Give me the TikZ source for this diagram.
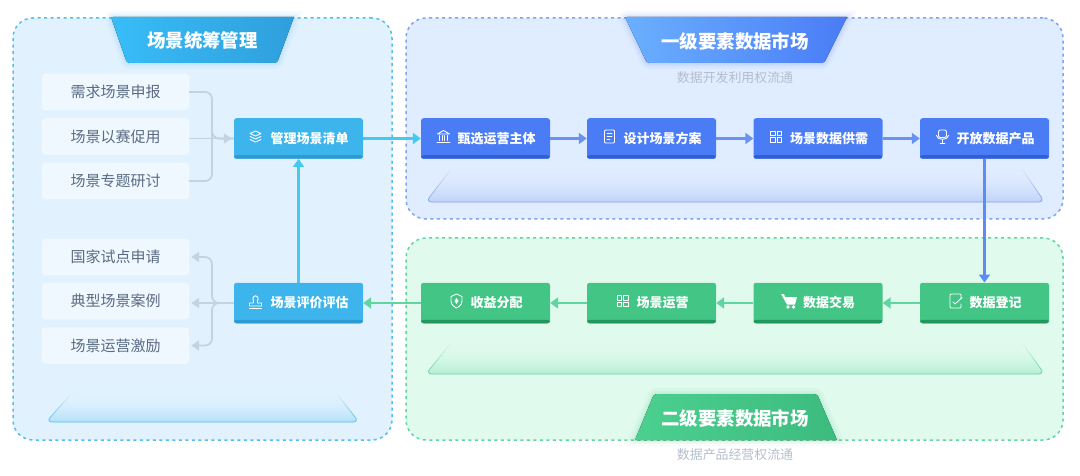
\documentclass[tikz,border=0pt]{standalone}
\usepackage{fontspec}
\usepackage{tikz}
\usetikzlibrary{arrows.meta,fadings}
\setmainfont{Noto Sans CJK SC}

\definecolor{skyfill}{HTML}{E1F2FE}
\definecolor{skyline}{HTML}{55BDEB}
\definecolor{bluefill}{HTML}{E0ECFF}
\definecolor{blueline}{HTML}{7FA3EE}
\definecolor{greenfill}{HTML}{E0FBEE}
\definecolor{greenline}{HTML}{5FD5A0}
\definecolor{skybox}{HTML}{3DB5EC}
\definecolor{skyedge}{HTML}{2E9AD3}
\definecolor{bluebox}{HTML}{4A7CF6}
\definecolor{blueedge}{HTML}{2F5FD8}
\definecolor{greenbox}{HTML}{42C585}
\definecolor{greenedge}{HTML}{22975F}
\definecolor{itemfill}{HTML}{EEF8FE}
\definecolor{itemtext}{HTML}{5C6B84}
\definecolor{bracket}{HTML}{C5D3E0}
\definecolor{subtext}{HTML}{B4BDCE}
\definecolor{skylight}{HTML}{38BDF8}
\definecolor{skydark}{HTML}{2F9FDC}
\definecolor{bluelight}{HTML}{6AB0FF}
\definecolor{greenlight}{HTML}{4BD08F}
\definecolor{greendark}{HTML}{3DBB7F}

\tikzset{
  panel/.style={rounded corners=20pt,line width=1.5pt,dash pattern=on 3pt off 3.5pt,inner sep=0pt},
  stepbox/.style 2 args={rounded corners=2.5pt,fill=#1,text=white,font=\fontsize{13}{13}\selectfont\bfseries,
    minimum width=129pt,minimum height=40.5pt,inner sep=0pt,
    path picture={\fill[#2] ([yshift=3.5pt]path picture bounding box.south west) rectangle (path picture bounding box.south east);}},
  itembox/.style={rounded corners=3pt,fill=itemfill,text=itemtext,font=\fontsize{15}{15}\selectfont,
    minimum width=147pt,minimum height=36.5pt,inner sep=0pt},
  titletext/.style={text=white,font=\fontsize{18.4}{18.4}\selectfont\bfseries,inner sep=0pt},
  subtitle/.style={text=subtext,font=\fontsize{12.9}{12.9}\selectfont,inner sep=0pt},
  flow/.style={line width=2.2pt,draw=#1,-{Triangle[length=8pt,width=11pt,fill=#1]}},
  greyflow/.style={line width=1.8pt,draw=bracket,rounded corners=7pt},
  greyarrow/.style={-{Triangle[length=8pt,width=10pt,fill=bracket]}},
  plate/.style 2 args={rounded corners=6pt,draw=#2,line width=.8pt,top color=#1,bottom color=#2!35!#1,path fading=north},
  glow/.style={preaction={draw=#1,line width=12pt,opacity=.05},preaction={draw=#1,line width=7pt,opacity=.07},preaction={draw=#1,line width=3pt,opacity=.08}},
  icon/.style={draw=white,line width=.9pt,line join=round,line cap=round},
  pics/layers/.style={code={
    \draw[icon] (-5.5,-3) -- (0,-5.5) -- (5.5,-3) -- (0,-.5) -- cycle;
    \draw[icon] (-5.5,0) -- (0,2.5) -- (5.5,0);
    \draw[icon] (-5.5,3) -- (0,5.5) -- (5.5,3);}},
  pics/bank/.style={code={
    \draw[icon] (-6,-2.5) -- (0,-6) -- (6,-2.5) -- cycle;
    \foreach \xcol in {-4,-1.3,1.3,4} {\draw[icon] (\xcol,-1) -- (\xcol,4);}
    \draw[icon] (-6.5,5.5) -- (6.5,5.5);}},
  pics/docsheet/.style={code={
    \draw[icon,rounded corners=1pt] (-5,-6.5) rectangle (5,6.5);
    \draw[icon] (-2.5,-3) -- (2.5,-3) (-2.5,0) -- (2.5,0) (-2.5,3) -- (.5,3);}},
  pics/tiles/.style={code={
    \foreach \xtile in {-5.5,1} {\foreach \ytile in {-5.5,1} {
      \draw[icon] (\xtile,\ytile) rectangle ++(4.5,4.5);}}}},
  pics/micro/.style={code={
    \draw[icon,rounded corners=2pt] (-4,-6.5) rectangle (4,1);
    \draw[icon] (-6,-1) .. controls (-6,4) and (6,4) .. (6,-1);
    \draw[icon] (0,3) -- (0,6.5) (-2.5,6.5) -- (2.5,6.5);}},
  pics/shield/.style={code={
    \draw[icon] (0,-7) -- (5.5,-4.5) -- (5.5,0) .. controls (5.5,4) and (2,6) .. (0,7) .. controls (-2,6) and (-5.5,4) .. (-5.5,0) -- (-5.5,-4.5) -- cycle;
    \fill[white] (0,-3) -- (2,0) -- (0,3) -- (-2,0) -- cycle;}},
  pics/cart/.style={code={
    \fill[white] (-8,-7) -- (-5,-7) -- (-4,-4) -- (8,-4) -- (6,3.5) -- (-2,3.5) -- cycle;
    \fill[white] (-1,6) circle (1.8);
    \fill[white] (4.5,6) circle (1.8);}},
  pics/register/.style={code={
    \draw[icon,rounded corners=1pt] (5.5,-2) -- (5.5,-7) -- (-5.5,-7) -- (-5.5,7) -- (5.5,7) -- (5.5,3);
    \draw[icon] (-2.5,1) -- (-.5,3) -- (6.5,-3.5);}},
  pics/stamp/.style={code={
    \draw[icon] (-2,0) .. controls (-5,-7) and (5,-7) .. (2,0) -- (2,2) -- (6,2) -- (6,5) -- (-6,5) -- (-6,2) -- (-2,2) -- cycle;
    \draw[icon] (-6,7) -- (6,7);}}
}

\begin{document}
\begin{tikzpicture}[x=1pt,y=-1pt]
  \useasboundingbox (0,0) rectangle (1080,476);
  % panels
  \node[panel,draw=skyline,fill=skyfill,minimum width=379pt,minimum height=422pt] (scenepanel) at (202.5,229) {};
  \node[panel,draw=blueline,fill=bluefill,minimum width=657pt,minimum height=201pt] (firstpanel) at (734.5,118.5) {};
  \node[panel,draw=greenline,fill=greenfill,minimum width=657pt,minimum height=202pt] (secondpanel) at (734.5,339) {};
  %
  \draw[plate={skyfill}{skyline}] (72,393) -- (46,422) -- (359,422) -- (336,393);
  \draw[plate={bluefill}{blueline}] (452,168) -- (426,202) -- (1045,202) -- (1022,168);
  \draw[plate={greenfill}{greenline}] (452,342) -- (426,374) -- (1045,374) -- (1022,342);
  % title plates
  \fill[glow=skybox,left color=skylight,right color=skydark,rounded corners=2pt] (111,17) [sharp corners] -- (294,17) [rounded corners=2pt] -- (277,63) -- (127,63) -- cycle;
  \fill[glow=bluebox,left color=bluelight,right color=bluebox,rounded corners=2pt] (625,17) [sharp corners] -- (847,17) [rounded corners=2pt] -- (824,63) -- (647,63) -- cycle;
  \fill[glow=greenbox,left color=greenlight,right color=greendark,rounded corners=2pt] (635,440) [rounded corners=2pt] -- (654,394) -- (817,394) [sharp corners] -- (837,440) -- cycle;
  \node[titletext] (scenetitle) at (202.5,40) {场景统筹管理};
  \node[titletext] (firsttitle) at (735,41) {一级要素数据市场};
  \node[titletext] (secondtitle) at (735,418) {二级要素数据市场};
  \node[subtitle] (firstsub) at (735,78) {数据开发利用权流通};
  \node[subtitle] (secondsub) at (735,455) {数据产品经营权流通};
  % left column
  \node[itembox] (report) at (115.5,92) {需求场景申报};
  \node[itembox] (contest) at (115.5,136.5) {场景以赛促用};
  \node[itembox] (seminar) at (115.5,181) {场景专题研讨};
  \node[itembox] (pilot) at (115.5,257) {国家试点申请};
  \node[itembox] (cases) at (115.5,301) {典型场景案例};
  \node[itembox] (reward) at (115.5,345.5) {场景运营激励};
  \node[stepbox={skybox}{skyedge}] (list) at (298.5,138.5) {\hspace{22pt}管理场景清单};
  \node[stepbox={skybox}{skyedge}] (review) at (298.5,303) {\hspace{22pt}场景评价评估};
  % first market
  \node[stepbox={bluebox}{blueedge}] (select) at (485.5,138.5) {\hspace{22pt}甄选运营主体};
  \node[stepbox={bluebox}{blueedge}] (design) at (651.5,138.5) {\hspace{22pt}设计场景方案};
  \node[stepbox={bluebox}{blueedge}] (supply) at (818,138.5) {\hspace{22pt}场景数据供需};
  \node[stepbox={bluebox}{blueedge}] (open) at (984.5,138.5) {\hspace{22pt}开放数据产品};
  % second market
  \node[stepbox={greenbox}{greenedge}] (income) at (485.5,303) {\hspace{22pt}收益分配};
  \node[stepbox={greenbox}{greenedge}] (operate) at (651.5,303) {\hspace{22pt}场景运营};
  \node[stepbox={greenbox}{greenedge}] (trade) at (818,303) {\hspace{22pt}数据交易};
  \node[stepbox={greenbox}{greenedge}] (record) at (984.5,303) {\hspace{22pt}数据登记};
  % icons
  \pic at ([xshift=-43pt,yshift=2pt]list.center) {layers};
  \pic at ([xshift=-43pt,yshift=2pt]review.center) {stamp};
  \pic at ([xshift=-42pt,yshift=2pt]select.center) {bank};
  \pic at ([xshift=-42pt,yshift=2pt]design.center) {docsheet};
  \pic at ([xshift=-42pt,yshift=2pt]supply.center) {tiles};
  \pic at ([xshift=-42pt,yshift=2pt]open.center) {micro};
  \pic at ([xshift=-29pt,yshift=2pt]income.center) {shield};
  \pic at ([xshift=-29pt,yshift=2pt]operate.center) {tiles};
  \pic at ([xshift=-29pt,yshift=2pt]trade.center) {cart};
  \pic at ([xshift=-29pt,yshift=2pt]record.center) {register};
  % connectors
  \coordinate (merge) at (212,138.5);
  \coordinate (split) at (212,303);
  \draw[greyflow] (report.east) -| (merge) |- (list.west);
  \draw[greyflow] (seminar.east) -| (merge) |- (list.west);
  \draw[greyflow,greyarrow,shorten >=2pt] (contest.east |- merge) -- (list.west);
  \draw[greyflow,greyarrow,shorten >=2pt] (review.west) -- (split) |- (pilot.east);
  \draw[greyflow,greyarrow,shorten >=2pt] (review.west) -- (cases.east |- split);
  \draw[greyflow,greyarrow,shorten >=2pt] (review.west) -- (split) |- (reward.east);
  %
  \draw[flow=skyline!80!cyan] (list) -- (select);
  \draw[flow=skyline!80!cyan] (review) -- (list);
  \draw[flow=blueline!60!bluebox] (select) -- (design);
  \draw[flow=blueline!60!bluebox] (design) -- (supply);
  \draw[flow=blueline!60!bluebox] (supply) -- (open);
  \draw[flow=blueline!40!bluebox] (open) -- (record);
  \draw[flow=greenline] (record) -- (trade);
  \draw[flow=greenline] (trade) -- (operate);
  \draw[flow=greenline] (operate) -- (income);
  \draw[flow=greenline] (income) -- (review);
\end{tikzpicture}
\end{document}
